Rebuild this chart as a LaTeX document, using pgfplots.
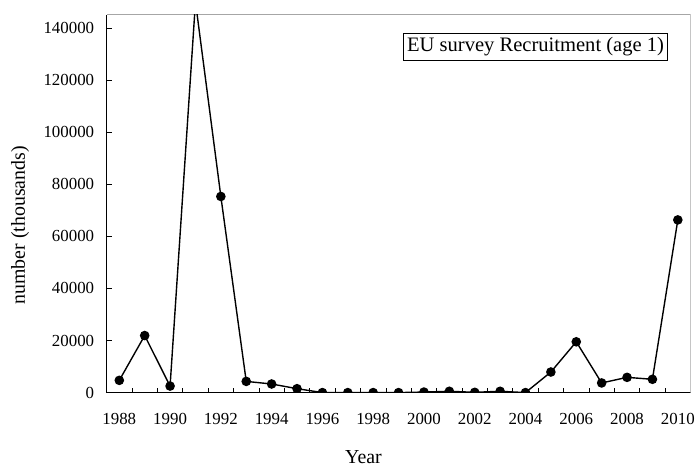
\documentclass[border=0pt]{standalone}
\usepackage{pgfplots}
\pgfplotsset{compat=1.18}
\usepackage{fontspec}
\setmainfont{Liberation Serif}
\begin{document}
\begin{tikzpicture}
\begin{axis}[
  name=ax,
  scale only axis,
  width=586bp, height=379bp,
  xmin=1987.5, xmax=2010.5,
  ymin=0, ymax=145000,
  axis x line*=bottom, axis y line*=left,
  axis line style={black, line width=0.9bp, -},
  xtick={1988,1990,...,2010},
  xticklabels={1988,1990,1992,1994,1996,1998,2000,2002,2004,2006,2008,2010},
  major x tick style={draw=none},
  minor xtick={1988.5,1989.5,...,2009.5},
  minor x tick style={black, line width=0.6bp},
  minor tick length=5bp,
  ytick={0,20000,40000,60000,80000,100000,120000,140000},
  yticklabels={0,20000,40000,60000,80000,100000,120000,140000},
  major tick length=5bp,
  y tick style={black, line width=0.6bp},
  tick align=inside,
  scaled y ticks=false,
  ticklabel style={font=\fontsize{17}{20}\selectfont},
  xticklabel style={anchor=base, yshift=-32.5bp},
  yticklabel style={xshift=-9bp},
  xlabel={Year},
  ylabel={number (thousands)},
  label style={font=\fontsize{20}{24}\selectfont},
  xlabel style={at={(axis description cs:0.44,-0.187)}, anchor=base},
  ylabel style={at={(axis description cs:-0.14,0.443)}, anchor=base},
  clip marker paths=true,
]
\draw[gray!70, line width=0.9bp] (rel axis cs:0,1) -- (rel axis cs:1,1) -- (rel axis cs:1,0);
\addplot[black, line width=1.4bp, mark=*, mark size=4.1pt, mark options={fill=black}]
coordinates {
(1988,4700) (1989,21900) (1990,2500) (1991,150000) (1992,75300)
(1993,4300) (1994,3300) (1995,1500) (1996,0) (1997,0) (1998,0)
(1999,0) (2000,200) (2001,500) (2002,100) (2003,500) (2004,0)
(2005,7900) (2006,19500) (2007,3700) (2008,5850) (2009,5100) (2010,66300)
};
\node[draw=black, line width=0.6bp, anchor=north east, inner xsep=3.5bp, inner ysep=4bp,
  font=\fontsize{20.7}{24}\selectfont]
  at (rel axis cs:0.961,0.9525) {EU survey Recruitment (age 1)};
\end{axis}
\path ([xshift=-107bp,yshift=-72bp]ax.south west) rectangle ([xshift=5bp,yshift=15bp]ax.north east);
\end{tikzpicture}
\end{document}
